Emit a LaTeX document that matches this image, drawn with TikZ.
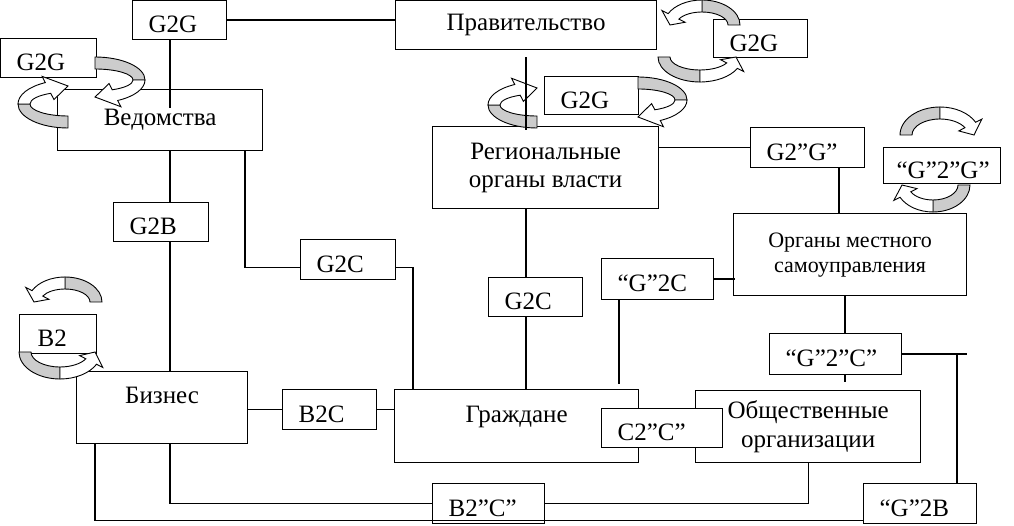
\documentclass[tikz,border=0pt]{standalone}
\usepackage{fontspec}
\setmainfont{Liberation Serif}
\definecolor{loopgray}{gray}{0.8}
\newcommand\turnarrow[6]{%
  \pgfmathsetmacro\tA{#5}%
  \pgfmathsetmacro\tM{#5+0.5*(#6-#5)}%
  \pgfmathsetmacro\tH{#6-0.15*(#6-#5)}%
  \pgfmathsetmacro\tE{#6}%
  \pgfmathsetlengthmacro\rXo{#3}\pgfmathsetlengthmacro\rYo{#4}%
  \pgfmathsetlengthmacro\rXi{#3-12}\pgfmathsetlengthmacro\rYi{#4-12}%
  \pgfmathsetlengthmacro\rXm{#3-6}\pgfmathsetlengthmacro\rYm{#4-6}%
  \pgfmathsetlengthmacro\rXa{#3+7}\pgfmathsetlengthmacro\rYa{#4+7}%
  \pgfmathsetlengthmacro\rXb{#3-19}\pgfmathsetlengthmacro\rYb{#4-19}%
  \begin{scope}[shift={(#1,#2)}, line width=0.9pt]
    \filldraw[fill=loopgray] ({cos(\tA)*\rXo},{sin(\tA)*\rYo}) arc[start angle=\tA, end angle=\tM, x radius=\rXo, y radius=\rYo]
      -- ({cos(\tM)*\rXi},{sin(\tM)*\rYi}) arc[start angle=\tM, end angle=\tA, x radius=\rXi, y radius=\rYi] -- cycle;
    \filldraw[fill=white] ({cos(\tM)*\rXo},{sin(\tM)*\rYo}) arc[start angle=\tM, end angle=\tH, x radius=\rXo, y radius=\rYo]
      -- ({cos(\tH)*\rXa},{sin(\tH)*\rYa}) -- ({cos(\tE)*\rXm},{sin(\tE)*\rYm}) -- ({cos(\tH)*\rXb},{sin(\tH)*\rYb})
      -- ({cos(\tH)*\rXi},{sin(\tH)*\rYi}) arc[start angle=\tH, end angle=\tM, x radius=\rXi, y radius=\rYi] -- cycle;
  \end{scope}}
\begin{document}
\begin{tikzpicture}[x=1pt, y=1pt, line width=1.2pt,
  box/.style={draw, fill=white, anchor=north west, inner sep=0pt, align=center, font=\fontsize{25}{28}\selectfont},
  tag/.style={draw, fill=white, anchor=north west, inner xsep=16pt, inner ysep=0pt, align=left, minimum height=39pt, text height=25pt, text depth=0pt, font=\fontsize{25}{28}\selectfont}]
    \useasboundingbox (0,0) rectangle (1014,525);
    \node[tag, text width=62pt] (TG) at (132,525) {G2G};
    \node[box, minimum width=261pt, minimum height=49pt] (Prav) at (395,525) {Правительство};
    \node[tag, text width=64pt] (LG) at (0,487) {G2G};
    \node[box, minimum width=205pt, minimum height=61pt] (Ved) at (57,436) {Ведомства};
    \node[tag, text width=62pt, minimum height=38pt] (RG) at (713,506) {G2G};
    \node[tag, text width=62pt, minimum height=38pt] (MG) at (544,449) {G2G};
    \node[box, minimum width=226pt, minimum height=82pt] (Reg) at (432,399) {Региональные\\органы власти};
    \node[tag, text width=82pt, minimum height=40pt] (GqG) at (750,398) {G2”G”};
    \node[tag, text width=91pt, inner xsep=13pt, minimum height=36pt] (qGqG) at (883,378) {“G”2”G”};
    \node[box, minimum width=233pt, minimum height=82pt, font=\fontsize{22}{25}\selectfont] (Org) at (733,312) {Органы местного\\самоуправления};
    \node[tag, text width=63pt] (GB) at (113,323) {G2B};
    \node[tag, text width=63pt, minimum height=40pt] (GCl) at (300,286) {G2C};
    \node[tag, text width=62pt] (GCm) at (488,248) {G2C};
    \node[tag, text width=80pt, minimum height=41pt] (qGC) at (601,267) {“G”2C};
    \node[tag, text width=100pt, minimum height=41pt] (qGqC) at (769,192) {“G”2”C”};
    \node[tag, text width=41pt, inner xsep=18pt] (BB) at (19,211) {B2};
    \node[box, minimum width=171pt, minimum height=72pt, text height=16pt, text depth=24pt] (Biz) at (76,154) {Бизнес};
    \node[tag, text width=62pt, minimum height=40pt] (BC) at (282,136) {B2C};
    \node[box, minimum width=244pt, minimum height=73pt, text height=16pt, text depth=24pt] (Graz) at (394,136) {Граждане};
    \node[box, minimum width=225pt, minimum height=72pt, font=\fontsize{25}{29}\selectfont] (Obsh) at (695,135) {Общественные\\организации};
    \node[tag, text width=89pt] (CqC) at (601,117) {C2”C”};
    \node[tag, text width=80pt, minimum height=40pt] (BqC) at (432,42) {B2”C”};
    \node[tag, text width=81pt, minimum height=40pt] (qGB) at (863,42) {“G”2B};
    \coordinate (colA) at (170,0);
    \coordinate (colB) at (95,0);
    \coordinate (colC) at (245,0);
    \coordinate (colD) at (413,0);
    \coordinate (colE) at (526,0);
    \coordinate (colF) at (839,0);
    \coordinate (colG) at (619,0);
    \coordinate (colH) at (845,0);
    \coordinate (colI) at (957,0);
    \coordinate (rEnd) at (967,0);
    \coordinate (rowZ) at (0,4.5);
    \coordinate (vedIn) at (170,417);
    \turnarrow{95}{445}{50}{23}{90}{-90}
    \turnarrow{68}{421}{50}{24}{270}{90}
    \turnarrow{638}{425}{49}{23}{90}{-90}
    \turnarrow{537}{420}{49}{23}{270}{90}
    \turnarrow{702}{500}{38}{25}{0}{180}
    \turnarrow{700}{468}{42}{25}{180}{360}
    \turnarrow{940}{390}{40}{28}{180}{0}
    \turnarrow{933}{340}{37}{27}{0}{-180}
    \turnarrow{65}{223}{37}{25}{0}{180}
    \turnarrow{60}{173}{41}{27}{180}{360}
    \draw (TG.east) -- (TG.east -| Prav.west);
    \draw (TG.south -| colA) -- (vedIn);
    \draw (Ved.south -| colA) -- (GB.north -| colA);
    \draw (GB.south -| colA) -- (Biz.north -| colA);
    \draw (Biz.south -| colA) |- (BqC.west);
    \draw (Biz.south -| colB) |- (qGB.west |- rowZ);
    \draw (Ved.south -| colC) |- ([yshift=-8pt]GCl.west);
    \draw ([yshift=-8pt]GCl.east) -| (Graz.north -| colD);
    \draw (BC.west -| Biz.east) -- (BC.west);
    \draw (BC.east) -- (BC.east -| Graz.west);
    \draw ([yshift=-7pt]Prav.south -| colE) -- ([yshift=-4pt]Reg.north -| colE);
    \draw (Reg.south -| colE) -- (GCm.north -| colE);
    \draw (GCm.south -| colE) -- (Graz.north -| colE);
    \draw (GqG.west -| Reg.east) -- (GqG.west);
    \draw (GqG.south -| colF) -- (Org.north -| colF);
    \draw (qGC.east) -- ([xshift=2pt]qGC.east -| Org.west);
    \draw (qGC.south -| colG) -- ([yshift=5pt]Graz.north -| colG);
    \draw (Org.south -| colH) -- (qGqC.north -| colH);
    \draw (qGqC.south -| colH) -- ([yshift=8pt]Obsh.north -| colH);
    \draw (qGqC.east) -- (qGqC.east -| rEnd);
    \draw (colI |- qGqC.east) -- (qGB.north -| colI);
    \draw (Obsh.south) |- (BqC.east);
\end{tikzpicture}
\end{document}
